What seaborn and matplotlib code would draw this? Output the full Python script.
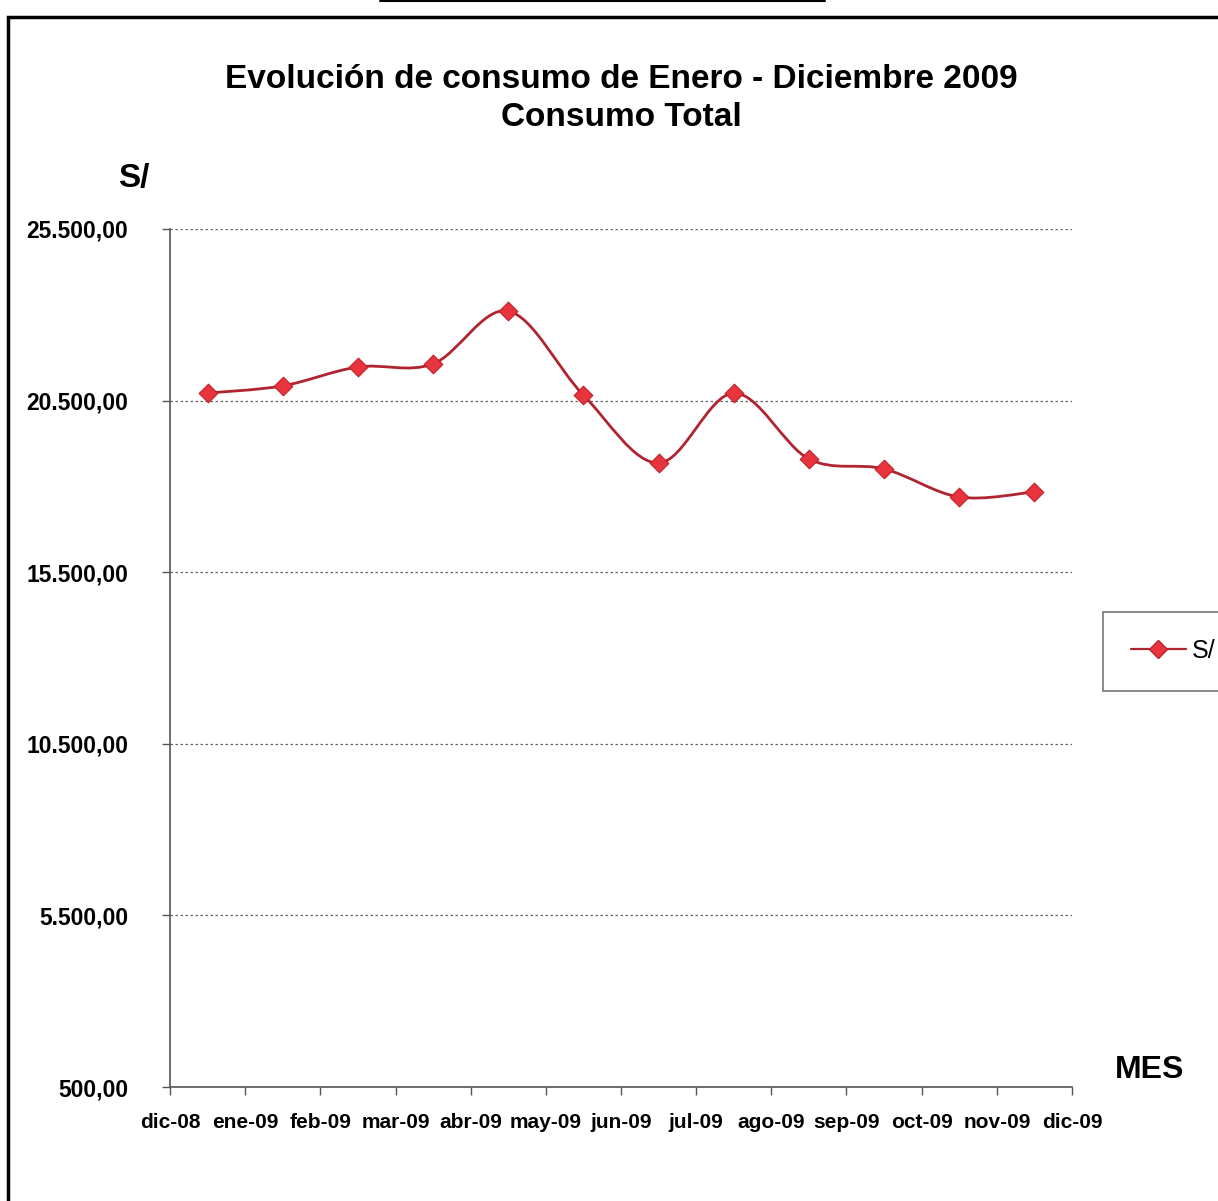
import numpy as np
import pandas as pd
import matplotlib
matplotlib.use('Agg')
import matplotlib.pyplot as plt
import seaborn as sns
from matplotlib.path import Path
from matplotlib.patches import PathPatch, Rectangle
from matplotlib.ticker import FuncFormatter, FixedLocator
from matplotlib.lines import Line2D

# data
meses = ['dic-08', 'ene-09', 'feb-09', 'mar-09', 'abr-09', 'may-09', 'jun-09',
         'jul-09', 'ago-09', 'sep-09', 'oct-09', 'nov-09', 'dic-09']
consumo = [20720, 20930, 21480, 21570, 23110, 20660, 18680,
           20720, 18800, 18510, 17690, 17840]
y_ticks = [500, 5500, 10500, 15500, 20500, 25500]

sns.set_style('white')
plt.rcParams['font.family'] = ['Liberation Sans', 'DejaVu Sans']
plt.rcParams['text.color'] = 'black'
plt.rcParams['xtick.color'] = 'black'
plt.rcParams['ytick.color'] = 'black'

fig = plt.figure(figsize=(12.18, 12.01), dpi=100)
ax = fig.add_axes([170/1218, 1 - 1087/1201, 902/1218, 858/1201])

# points sit in the middle of each month interval
df = pd.DataFrame({'pos': np.arange(len(consumo)) + 0.5, 'S/': consumo})

# smoothed line (Excel-style bezier through the points)
pts = df[['pos', 'S/']].to_numpy(dtype=float)
verts = [pts[0]]
codes = [Path.MOVETO]
for i in range(len(pts) - 1):
    p0 = pts[i - 1] if i > 0 else pts[i]
    p1 = pts[i]
    p2 = pts[i + 1]
    p3 = pts[i + 2] if i + 2 < len(pts) else pts[i + 1]
    verts += [p1 + (p2 - p0) / 6, p2 - (p3 - p1) / 6, p2]
    codes += [Path.CURVE4] * 3
ax.add_patch(PathPatch(Path(verts, codes), facecolor='none',
                       edgecolor='#b02430', lw=2, zorder=3))

sns.scatterplot(data=df, x='pos', y='S/', marker='D', s=90, color='#e8343c',
                edgecolor='#c0202a', linewidth=0.8, zorder=4, ax=ax, legend=False)

ax.set_xlim(0, 12)
ax.set_ylim(500, 25500)
ax.xaxis.set_major_locator(FixedLocator(np.arange(len(meses))))
ax.set_xticklabels(meses, fontsize=15, fontweight='bold')
ax.yaxis.set_major_locator(FixedLocator(y_ticks))
ax.yaxis.set_major_formatter(FuncFormatter(
    lambda v, p: f'{v:,.2f}'.replace(',', 'X').replace('.', ',').replace('X', '.')))
for t in ax.get_yticklabels():
    t.set_fontsize(16.5)
    t.set_fontweight('bold')
ax.set_xlabel('')
ax.set_ylabel('')

ax.yaxis.grid(True, linestyle=(0, (2, 2)), color='#666666', linewidth=0.9)
ax.xaxis.grid(False)
for s in ['top', 'right']:
    ax.spines[s].set_visible(False)
for s in ['left', 'bottom']:
    ax.spines[s].set_color('#555555')
    ax.spines[s].set_linewidth(1.2)
ax.tick_params(axis='both', which='major', direction='out', length=6,
               width=1, color='#555555', left=True, bottom=True)
ax.tick_params(axis='y', pad=24)
ax.tick_params(axis='x', pad=13)

fig.text(621/1218, 1 - 80/1201, 'Evolución de consumo de Enero - Diciembre 2009',
         ha='center', va='center', fontsize=24, fontweight='bold')
fig.text(621/1218, 1 - 118/1201, 'Consumo Total',
         ha='center', va='center', fontsize=24, fontweight='bold')
fig.text(134/1218, 1 - 178/1201, 'S/', ha='center', va='center',
         fontsize=24, fontweight='bold')
fig.text(1150/1218, 1 - 1070/1201, 'MES', ha='center', va='center',
         fontsize=23, fontweight='bold')

handle = Line2D([], [], color='#b02430', lw=1.6, marker='D', markersize=9,
                markerfacecolor='#e8343c', markeredgecolor='#c0202a')
leg = fig.legend([handle], ['S/'], loc='center left',
                 bbox_to_anchor=(1103/1218, 1 - 651/1201), fontsize=18,
                 frameon=True, handlelength=2.2, handletextpad=0.25,
                 borderpad=1.1, borderaxespad=0, fancybox=False)
leg.get_frame().set_edgecolor('#555555')
leg.get_frame().set_linewidth(1.2)

# outer frame of the scanned page
fig.patches.append(Rectangle((8/1218, -0.05), 1.1, 1 - 17/1201 + 0.05,
                             transform=fig.transFigure, fill=False,
                             edgecolor='black', linewidth=2.5))
fig.lines.append(Line2D([380/1218, 825/1218], [0.999, 0.999],
                        transform=fig.transFigure, color='black', linewidth=1.5))

fig.savefig('out.png', dpi=100)
